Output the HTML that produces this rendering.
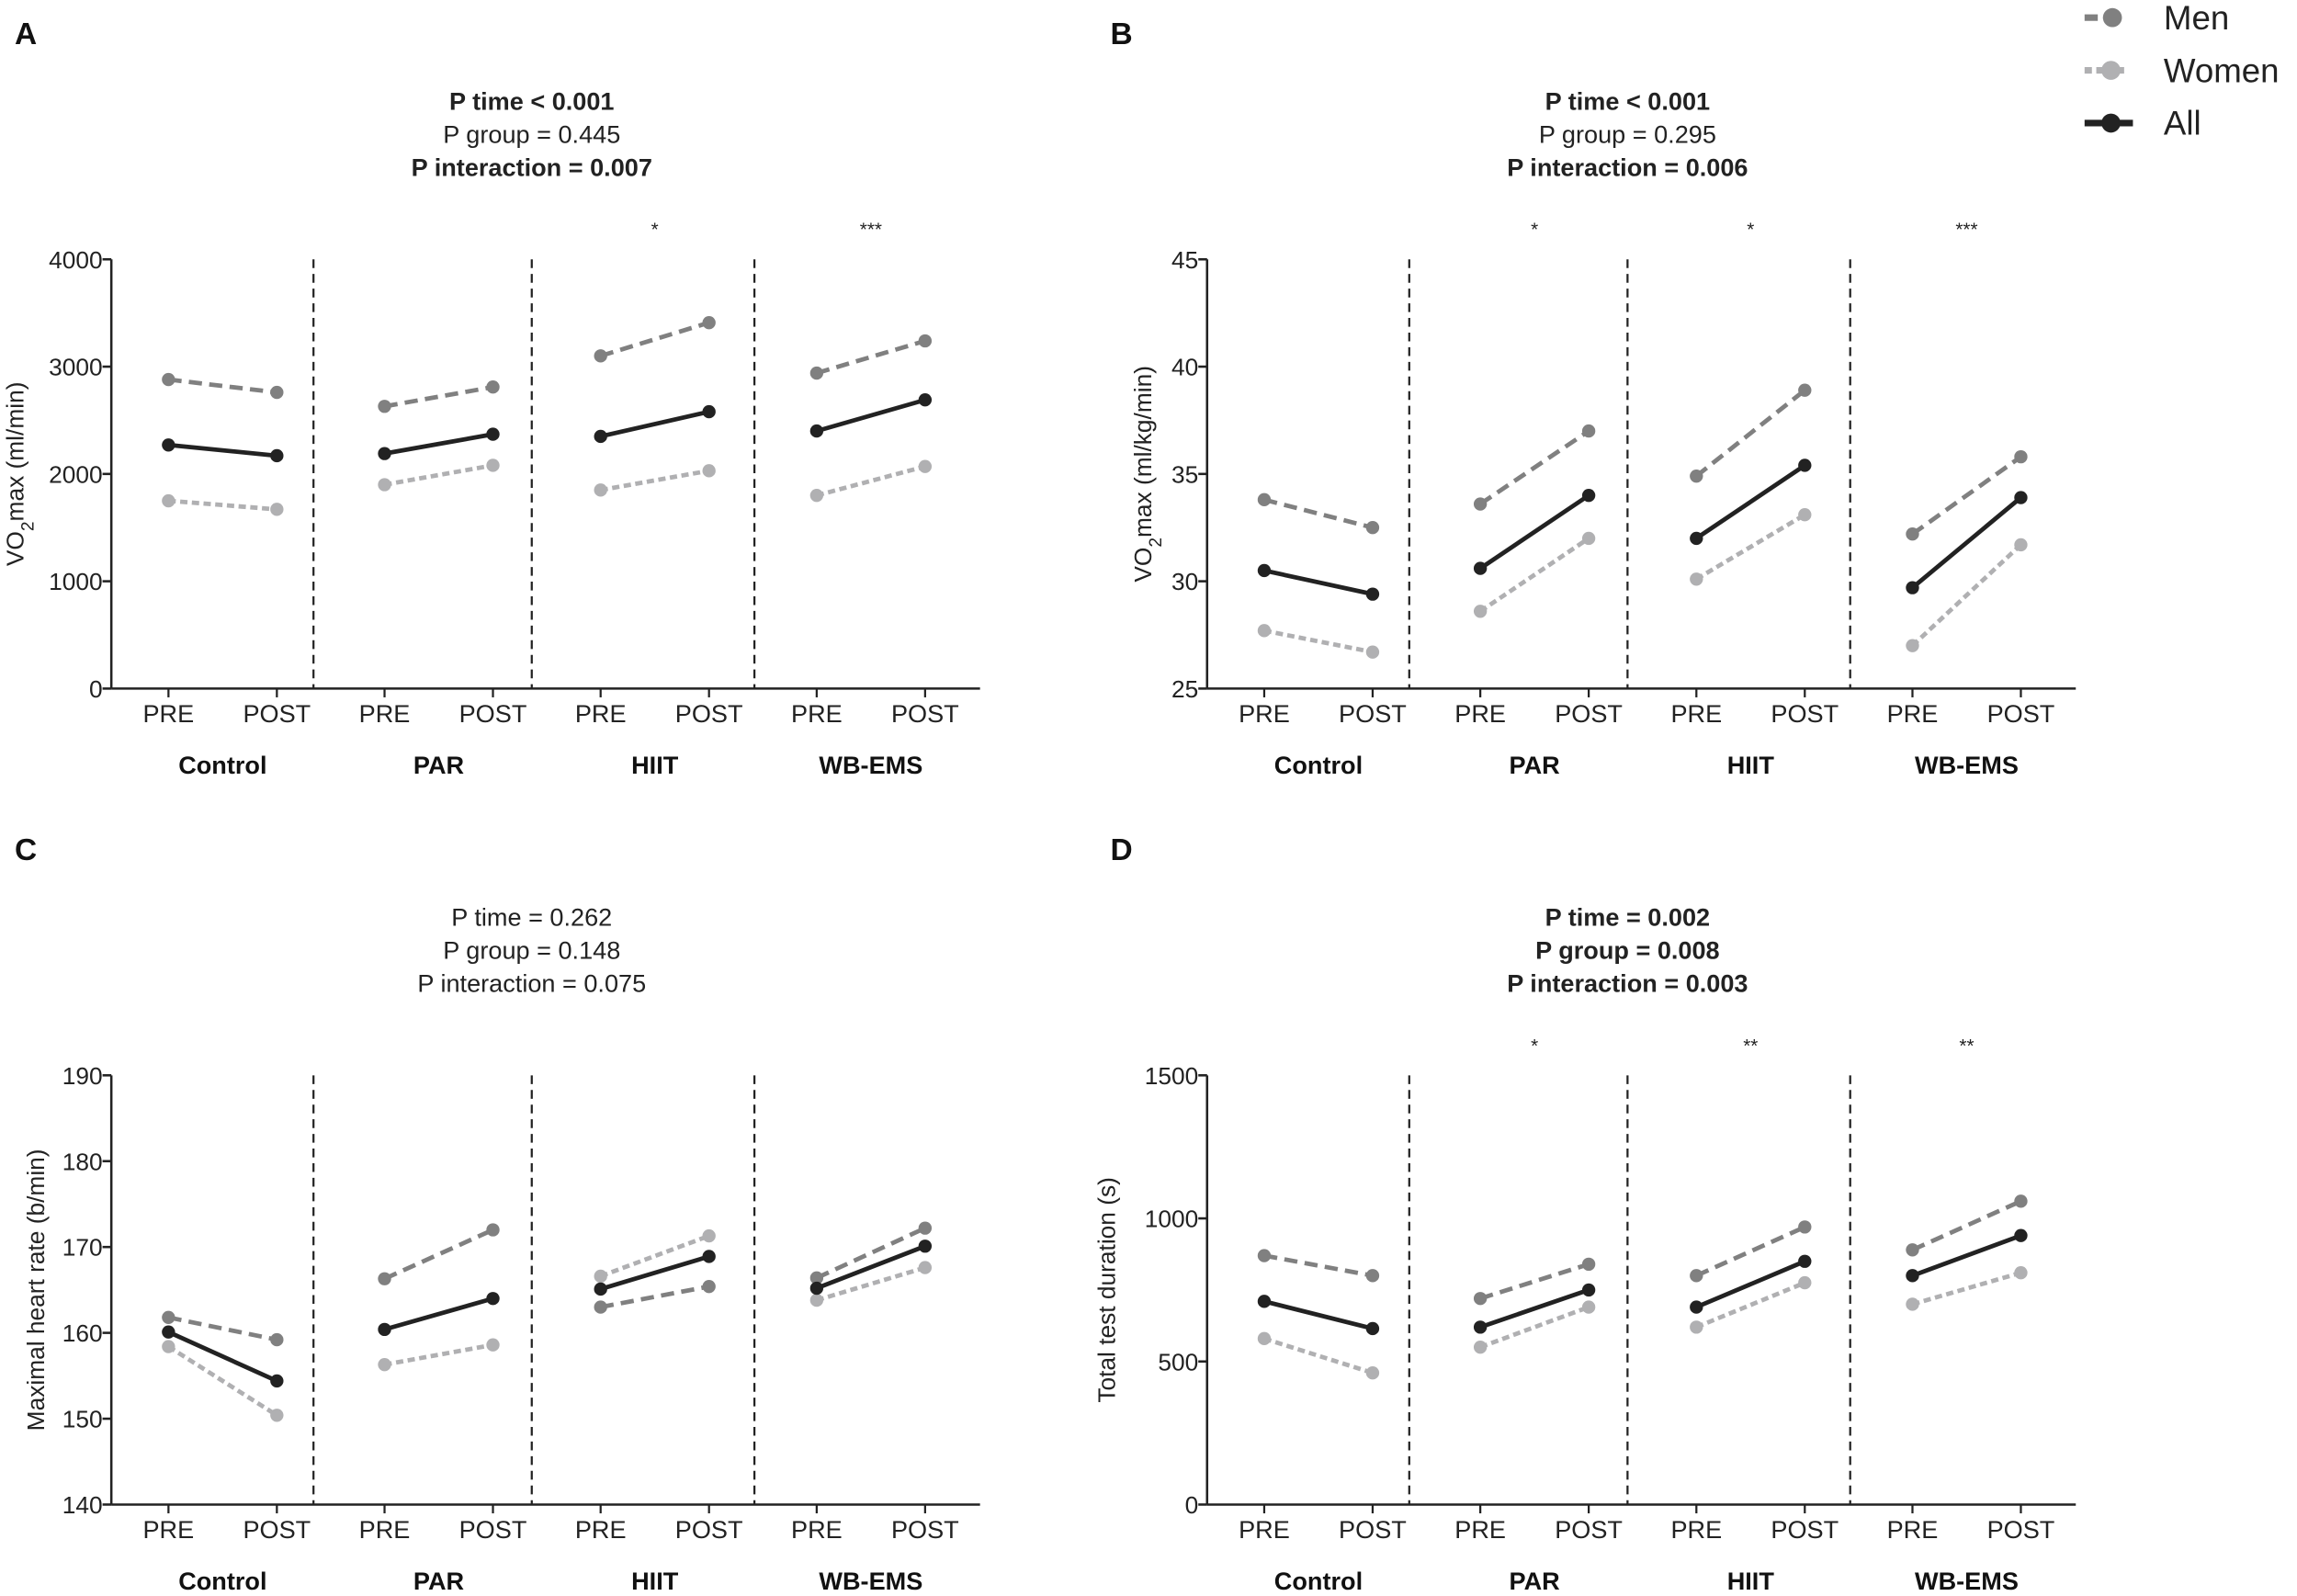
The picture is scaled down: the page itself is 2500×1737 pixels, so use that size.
<!DOCTYPE html>
<html><head><meta charset="utf-8">
<style>
html,body{margin:0;padding:0;background:#fff;}
svg{display:block;font-family:"Liberation Sans",sans-serif;}
</style></head>
<body>
<svg id="fig" width="2500" height="1737" viewBox="0 0 1568 1089.4" xmlns="http://www.w3.org/2000/svg">
<g>
  <g>
    <line x1="1423" y1="12" x2="1450" y2="12" stroke="#808080" stroke-width="4.5" stroke-dasharray="9,5"/>
    <circle cx="1442" cy="12" r="6.5" fill="#808080"/>
    <text x="1477" y="20" font-size="23" fill="#222">Men</text>
  </g>
  <g>
    <line x1="1423" y1="48" x2="1450" y2="48" stroke="#b0b0b2" stroke-width="4.5" stroke-dasharray="5,3"/>
    <circle cx="1441" cy="48" r="6.5" fill="#b0b0b2"/>
    <text x="1477" y="56" font-size="23" fill="#222">Women</text>
  </g>
  <g>
    <line x1="1423" y1="84" x2="1456" y2="84" stroke="#222" stroke-width="4.5"/>
    <circle cx="1441" cy="84" r="6.5" fill="#222"/>
    <text x="1477" y="92" font-size="23" fill="#222">All</text>
  </g>
</g>
</svg>
<script>
// Panel A: VO2max (ml/min)
const groups = ["Control","PAR","HIIT","WB-EMS"];
const timepoints = ["PRE","POST"];
const aMen   = [2880,2760, 2630,2810, 3100,3410, 2940,3240];
const aAll   = [2270,2170, 2190,2370, 2350,2580, 2400,2690];
const aWomen = [1750,1670, 1900,2080, 1850,2030, 1800,2070];
const aTicks = [0,1000,2000,3000,4000];
const aStars = ["","","*","***"];
// Panel B: VO2max (ml/kg/min)
const bMen   = [33.8,32.5, 33.6,37.0, 34.9,38.9, 32.2,35.8];
const bAll   = [30.5,29.4, 30.6,34.0, 32.0,35.4, 29.7,33.9];
const bWomen = [27.7,26.7, 28.6,32.0, 30.1,33.1, 27.0,31.7];
const bTicks = [25,30,35,40,45];
const bStars = ["","*","*","***"];
// Panel C: Maximal heart rate
const cMen   = [161.8,159.2, 166.3,172.0, 163.0,165.4, 166.4,172.2];
const cAll   = [160.1,154.4, 160.4,164.0, 165.1,168.9, 165.2,170.1];
const cWomen = [158.4,150.4, 156.3,158.6, 166.6,171.3, 163.8,167.6];
const cTicks = [140,150,160,170,180,190];
const cStars = ["","","",""];
// Panel D: Total test duration
const dMen   = [870,800, 720,840, 800,970, 890,1060];
const dAll   = [710,615, 620,750, 690,850, 800,940];
const dWomen = [580,460, 550,690, 620,775, 700,810];
const dTicks = [0,500,1000,1500];
const dStars = ["","*","**","**"];

const NS="http://www.w3.org/2000/svg";
const svg=document.getElementById('fig');
function mk(tag,attrs,parent,text){const e=document.createElementNS(NS,tag);for(const k in attrs)e.setAttribute(k,attrs[k]);if(text!==undefined)e.textContent=text;(parent||svg).appendChild(e);return e;}

function panel(cfg){
  const g=mk('g',{});
  
  
  const ox=cfg.ox, oy=cfg.oy;
  const left=76+ox, right=669+ox, top=177+oy, bottom=470+oy;
  const tmin=cfg.ticks[0], tmax=cfg.ticks[cfg.ticks.length-1];
  const yS=v=>bottom-(v-tmin)/(tmax-tmin)*(bottom-top);
  const xS=(gi,ti)=>115+ox+gi*147.5+ti*74;
  const L=mk('text',{x:10+ox,y:30+oy,'font-size':21,'font-weight':'bold',fill:'#111'},g,cfg.letter);
  
  
  cfg.ptext.forEach((t,i)=>{
    const e=mk('text',{x:363+ox,y:75+oy+i*22.5,'font-size':17,'text-anchor':'middle','font-weight':t[1]?'bold':'normal',fill:'#222'},g,t[0]);
    
    
  });
  // y axis
  const ya=mk('line',{x1:left,y1:top,x2:left,y2:bottom,stroke:'#222','stroke-width':1.6},g);
  
  
  cfg.ticks.forEach(t=>{
    const y=yS(t);
    mk('line',{x1:left-6,y1:y,x2:left,y2:y,stroke:'#222','stroke-width':1.6},g);
    const tl=mk('text',{x:left-6,y:y+6,'font-size':16.5,'text-anchor':'end',fill:'#222'},g,String(t));
    
    
  });
  const yt=mk('text',{transform:`translate(${cfg.ytx+ox},${(top+bottom)/2}) rotate(-90)`,'font-size':16.5,'text-anchor':'middle',fill:'#222'},g);
  
  
  yt.innerHTML=cfg.ytitle;
  // x axis
  const xa=mk('line',{x1:left,y1:bottom,x2:right,y2:bottom,stroke:'#222','stroke-width':1.6},g);
  
  
  [214,363,515].forEach(dx=>{
    const d=mk('line',{x1:dx+ox,y1:top,x2:dx+ox,y2:bottom,stroke:'#222','stroke-width':1.4,'stroke-dasharray':'6,4'},g);
    
    
  });
  groups.forEach((gn,gi)=>{
    timepoints.forEach((tp,ti)=>{
      const x=xS(gi,ti);
      mk('line',{x1:x,y1:bottom,x2:x,y2:bottom+6,stroke:'#222','stroke-width':1.4},g);
      const tl=mk('text',{x:x,y:bottom+23,'font-size':17,'text-anchor':'middle',fill:'#222'},g,tp);
      
      
    });
    const gl=mk('text',{x:(xS(gi,0)+xS(gi,1))/2,y:bottom+58,'font-size':17,'font-weight':'bold','text-anchor':'middle',fill:'#111'},g,gn);
    
    
    if(cfg.stars[gi]){
      const s=mk('text',{x:(xS(gi,0)+xS(gi,1))/2,y:top-16,'font-size':13,'text-anchor':'middle',fill:'#222'},g,cfg.stars[gi]);
      
      
    }
  });
  const series=[[cfg.men,'#808080','9,5','men'],[cfg.women,'#b0b0b2','5,3','women'],[cfg.all,'#222','','all']];
  series.forEach(([vals,col,dash,nm])=>{
    groups.forEach((gn,gi)=>{
      const x1=xS(gi,0),x2=xS(gi,1),y1=yS(vals[gi*2]),y2=yS(vals[gi*2+1]);
      const ln=mk('line',{x1,y1,x2,y2,stroke:col,'stroke-width':3,'stroke-dasharray':dash||'none'},g);
      
      
      [[x1,y1],[x2,y2]].forEach(p=>{
        const c=mk('circle',{cx:p[0],cy:p[1],r:4.5,fill:col},g);
        
        
      });
    });
  });
}
panel({letter:'A',ox:0,oy:0,ticks:aTicks,men:aMen,all:aAll,women:aWomen,stars:aStars,ytx:16,
  ytitle:'VO<tspan baseline-shift="sub" font-size="12">2</tspan>max (ml/min)',
  ptext:[['P time < 0.001',1],['P group = 0.445',0],['P interaction = 0.007',1]]});
panel({letter:'B',ox:748,oy:0,ticks:bTicks,men:bMen,all:bAll,women:bWomen,stars:bStars,ytx:38,
  ytitle:'VO<tspan baseline-shift="sub" font-size="12">2</tspan>max (ml/kg/min)',
  ptext:[['P time < 0.001',1],['P group = 0.295',0],['P interaction = 0.006',1]]});
panel({letter:'C',ox:0,oy:557,ticks:cTicks,men:cMen,all:cAll,women:cWomen,stars:cStars,ytx:30,
  ytitle:'Maximal heart rate (b/min)',
  ptext:[['P time = 0.262',0],['P group = 0.148',0],['P interaction = 0.075',0]]});
panel({letter:'D',ox:748,oy:557,ticks:dTicks,men:dMen,all:dAll,women:dWomen,stars:dStars,ytx:13,
  ytitle:'Total test duration (s)',
  ptext:[['P time = 0.002',1],['P group = 0.008',1],['P interaction = 0.003',1]]});
</script>
</body></html>
